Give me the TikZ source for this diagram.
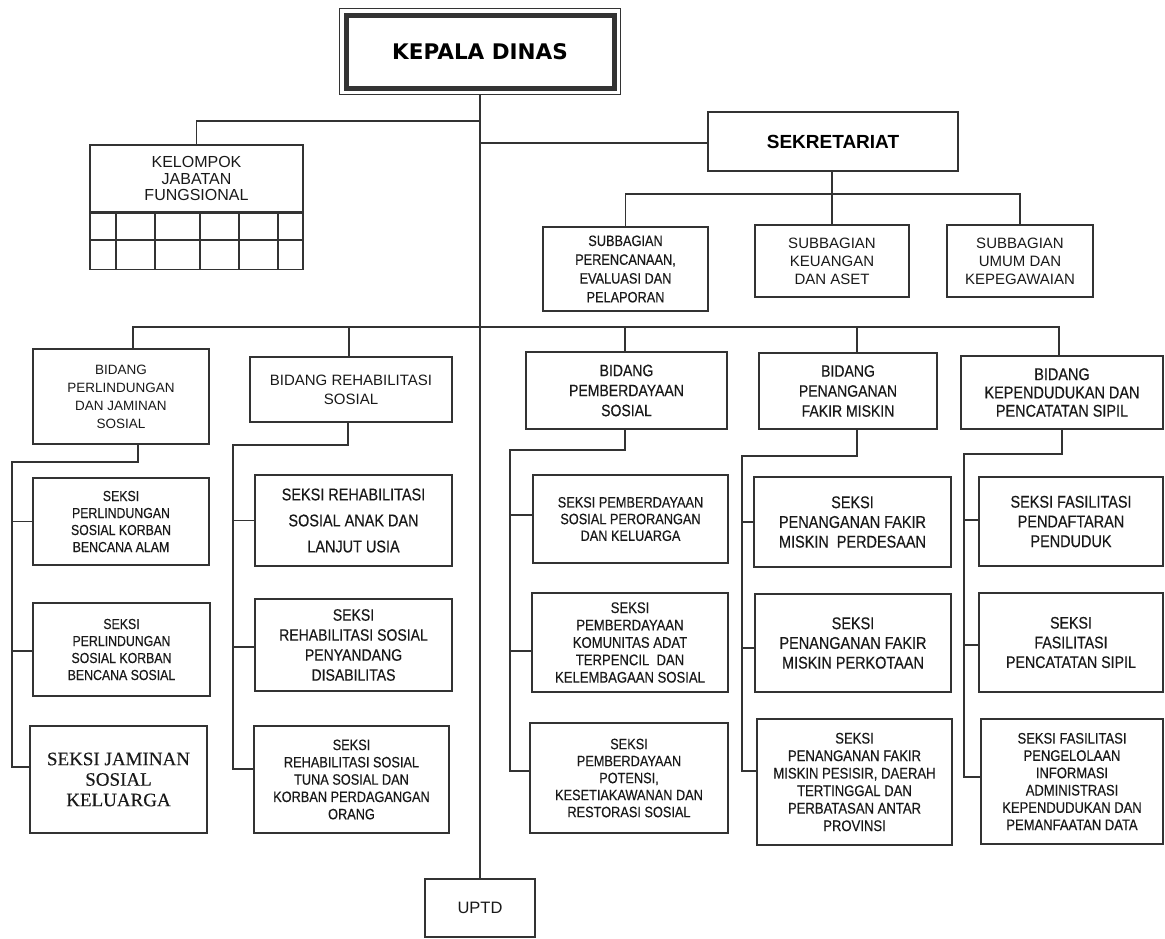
\documentclass[tikz,border=0pt]{standalone}
\usepackage{fontspec}
\setmainfont{Liberation Sans}
\newfontfamily\narrowfont[FakeStretch=0.85,FakeBold=0.4]{Liberation Sans}
\newfontfamily\jaminanfont[FakeBold=0.3]{Liberation Serif}
\newfontfamily\headfont{DejaVu Sans}
\usepackage{tikz}

\newcommand{\fsz}[2]{\fontsize{#1}{#2}\selectfont}

\begin{document}
\begin{tikzpicture}[x=1pt,y=1pt,yscale=-1,xscale=1,
  unit/.style={draw=black!80,line width=1.3pt,align=center,inner sep=1pt,text=black!90},
  link/.style={draw=black!80,line width=1.3pt}]
\useasboundingbox (0,0) rectangle (1165,938);

% Kepala Dinas
\node[unit,line width=5pt,minimum width=268,minimum height=73,text=black,font=\headfont\bfseries\fsz{21.5}{24}] (kepala) at (480,51.5) {KEPALA DINAS};
\node[draw=black!80,line width=1.2pt,minimum width=281,minimum height=86] (kepalaframe) at (kepala.center) {};

% UPTD and trunk
\node[unit,minimum width=110,minimum height=58,font=\fsz{16.5}{19}] (uptd) at (480,908) {UPTD};
\draw[link] (kepalaframe.south) -- (uptd.north);

% Kelompok jabatan fungsional
\node[unit,minimum width=213,minimum height=67,font=\fsz{16}{16.5}] (kelompok) at (196.5,178.5) {KELOMPOK\\JABATAN\\FUNGSIONAL};
\node[unit,minimum width=213,minimum height=56,anchor=north] (kelgrid) at (kelompok.south) {};
\draw[link] (kelgrid.west |- 0,240) -- (kelgrid.east |- 0,240);
\foreach \gx in {116,155,200,239,278}
  \draw[link] (kelgrid.north -| \gx,0) -- (kelgrid.south -| \gx,0);
\coordinate (tk1) at (480,121);
\draw[link] (tk1) -| (kelompok.north);

% Sekretariat
\node[unit,minimum width=250,minimum height=59,text=black,font=\bfseries\fsz{19}{22}] (sek) at (833,141.5) {SEKRETARIAT};
\coordinate (tk2) at (480,143);
\draw[link] (tk2) -- (sek.west |- tk2);

\node[unit,minimum width=165,minimum height=84,font=\narrowfont\fsz{15}{18.8}] (sub1) at (625.5,269) {SUBBAGIAN\\PERENCANAAN,\\EVALUASI DAN\\PELAPORAN};
\node[unit,minimum width=154,minimum height=72,font=\fsz{15}{18}] (sub2) at (832,261) {SUBBAGIAN\\KEUANGAN\\DAN ASET};
\node[unit,minimum width=146,minimum height=72,font=\fsz{15}{18}] (sub3) at (1020,261) {SUBBAGIAN\\UMUM DAN\\KEPEGAWAIAN};
\coordinate (subbus) at (832,194);
\draw[link] (sek.south -| sub2.north) -- (sub2.north);
\draw[link] (sub1.north) |- (subbus) -| (sub3.north);

% Bidang
\node[unit,minimum width=176,minimum height=95,font=\fsz{13.5}{18}] (b1) at (121,396.5) {BIDANG\\PERLINDUNGAN\\DAN JAMINAN\\SOSIAL};
\node[unit,minimum width=202,minimum height=65,font=\fsz{15}{19}] (b2) at (351,389.5) {BIDANG REHABILITASI\\SOSIAL};
\node[unit,minimum width=201,minimum height=77,font=\narrowfont\fsz{16.5}{20}] (b3) at (626.5,390.5) {BIDANG\\PEMBERDAYAAN\\SOSIAL};
\node[unit,minimum width=178,minimum height=76,font=\narrowfont\fsz{16.5}{20}] (b4) at (848,391) {BIDANG\\PENANGANAN\\FAKIR MISKIN};
\node[unit,minimum width=202,minimum height=73,font=\narrowfont\fsz{17}{18.3}] (b5) at (1062,392.5) {BIDANG\\KEPENDUDUKAN DAN\\PENCATATAN SIPIL};

\coordinate (bus) at (480,327);
\draw[link] (b1.north -| 133,0) |- (bus) -| (b5.north -| 1059,0);
\draw[link] (b2.north -| 349,0) -- (bus -| 349,0);
\draw[link] (b3.north -| 625,0) -- (bus -| 625,0);
\draw[link] (b4.north -| 857,0) -- (bus -| 857,0);

% Seksi bidang perlindungan
\node[unit,minimum width=176,minimum height=87,font=\narrowfont\fsz{14.5}{17}] (s11) at (121,521.5) {SEKSI\\PERLINDUNGAN\\SOSIAL KORBAN\\BENCANA ALAM};
\node[unit,minimum width=177,minimum height=93,font=\narrowfont\fsz{14.5}{17}] (s12) at (121.5,649.5) {SEKSI\\PERLINDUNGAN\\SOSIAL KORBAN\\BENCANA SOSIAL};
\node[unit,minimum width=177,minimum height=107,font=\jaminanfont\fsz{19}{20.5}] (s13) at (118.5,779.5) {SEKSI JAMINAN\\SOSIAL\\KELUARGA};
\coordinate (g1) at (12,462);
\draw[link] (b1.south -| 138,0) |- (g1) -- (g1 |- 0,767) -- (s13.west |- 0,767);
\draw[link] (g1 |- s11.west) -- (s11.west);
\draw[link] (g1 |- 0,651) -- (s12.west |- 0,651);

% Seksi bidang rehabilitasi
\node[unit,minimum width=197,minimum height=91,font=\narrowfont\fsz{17}{26}] (s21) at (353.5,520.5) {SEKSI REHABILITASI\\SOSIAL ANAK DAN\\LANJUT USIA};
\node[unit,minimum width=197,minimum height=92,font=\narrowfont\fsz{16.5}{20}] (s22) at (353.5,645) {SEKSI\\REHABILITASI SOSIAL\\PENYANDANG\\DISABILITAS};
\node[unit,minimum width=195,minimum height=107,font=\narrowfont\fsz{15}{17.3}] (s23) at (351.5,779.5) {SEKSI\\REHABILITASI SOSIAL\\TUNA SOSIAL DAN\\KORBAN PERDAGANGAN\\ORANG};
\coordinate (g2) at (233,445);
\draw[link] (b2.south -| 348,0) |- (g2) -- (g2 |- 0,769) -- (s23.west |- 0,769);
\draw[link] (g2 |- s21.west) -- (s21.west);
\draw[link] (g2 |- 0,647) -- (s22.west |- 0,647);

% Seksi bidang pemberdayaan
\node[unit,minimum width=195,minimum height=88,font=\narrowfont\fsz{15}{16.7}] (s31) at (630.5,519) {SEKSI PEMBERDAYAAN\\SOSIAL PERORANGAN\\DAN KELUARGA};
\node[unit,minimum width=196,minimum height=99,font=\narrowfont\fsz{15.4}{17.4}] (s32) at (630,642.5) {SEKSI\\PEMBERDAYAAN\\KOMUNITAS ADAT\\TERPENCIL\ \ DAN\\KELEMBAGAAN SOSIAL};
\node[unit,minimum width=198,minimum height=110,font=\narrowfont\fsz{15}{17}] (s33) at (629,778) {SEKSI\\PEMBERDAYAAN\\POTENSI,\\KESETIAKAWANAN DAN\\RESTORASI SOSIAL};
\coordinate (g3) at (510,450);
\draw[link] (b3.south -| 625,0) |- (g3) -- (g3 |- 0,771) -- (s33.west |- 0,771);
\draw[link] (g3 |- 0,515) -- (s31.west |- 0,515);
\draw[link] (g3 |- 0,651) -- (s32.west |- 0,651);

% Seksi bidang fakir miskin
\node[unit,minimum width=197,minimum height=90,font=\narrowfont\fsz{17}{19.7}] (s41) at (852.5,522) {SEKSI\\PENANGANAN FAKIR\\MISKIN\ \ PERDESAAN};
\node[unit,minimum width=196,minimum height=98,font=\narrowfont\fsz{17}{19.7}] (s42) at (853,643) {SEKSI\\PENANGANAN FAKIR\\MISKIN PERKOTAAN};
\node[unit,minimum width=195,minimum height=126,font=\narrowfont\fsz{15.4}{17.5}] (s43) at (854.5,782) {SEKSI\\PENANGANAN FAKIR\\MISKIN PESISIR, DAERAH\\TERTINGGAL DAN\\PERBATASAN ANTAR\\PROVINSI};
\coordinate (g4) at (742,456);
\draw[link] (b4.south -| 857,0) |- (g4) -- (g4 |- 0,771) -- (s43.west |- 0,771);
\draw[link] (g4 |- s41.west) -- (s41.west);
\draw[link] (g4 |- 0,648) -- (s42.west |- 0,648);

% Seksi bidang kependudukan
\node[unit,minimum width=184,minimum height=89,font=\narrowfont\fsz{17}{19.7}] (s51) at (1071,521.5) {SEKSI FASILITASI\\PENDAFTARAN\\PENDUDUK};
\node[unit,minimum width=184,minimum height=99,font=\narrowfont\fsz{16.7}{19.7}] (s52) at (1071,642.5) {SEKSI\\FASILITASI\\PENCATATAN SIPIL};
\node[unit,minimum width=182,minimum height=125,font=\narrowfont\fsz{15.3}{17.3}] (s53) at (1072,781.5) {SEKSI FASILITASI\\PENGELOLAAN\\INFORMASI\\ADMINISTRASI\\KEPENDUDUKAN DAN\\PEMANFAATAN DATA};
\coordinate (g5) at (964,454);
\draw[link] (b5.south -| 1062,0) |- (g5) -- (g5 |- 0,777) -- (s53.west |- 0,777);
\draw[link] (g5 |- 0,520) -- (s51.west |- 0,520);
\draw[link] (g5 |- 0,645) -- (s52.west |- 0,645);

\end{tikzpicture}
\end{document}
